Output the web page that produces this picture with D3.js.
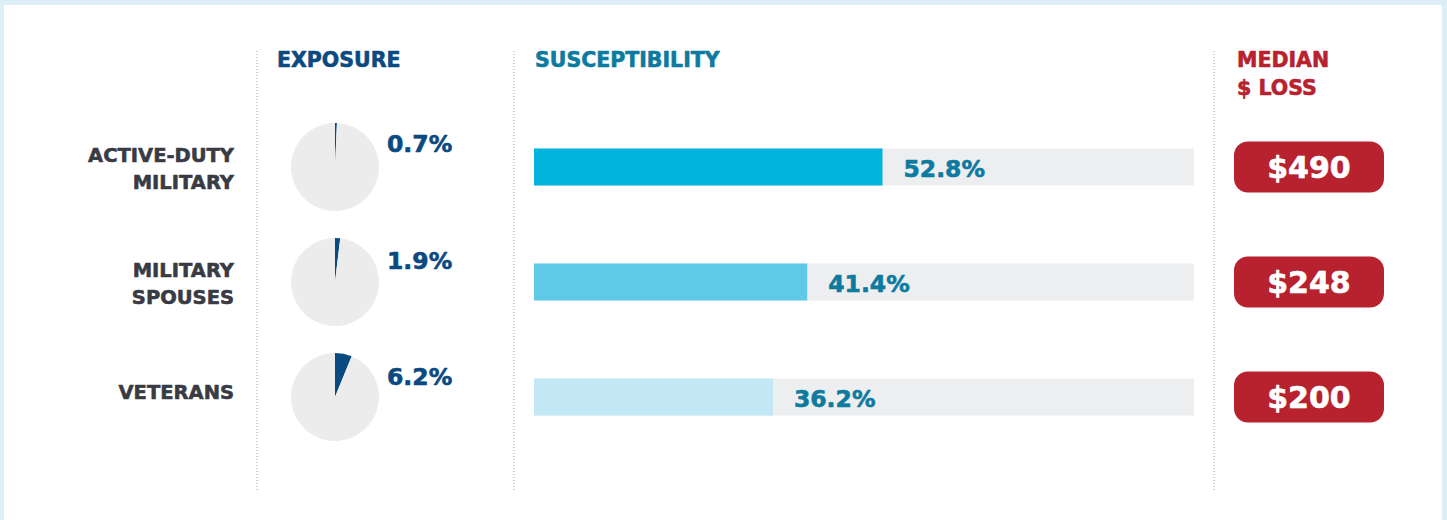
<!DOCTYPE html>
<html>
<head>
<meta charset="utf-8">
<script src="https://cdn.jsdelivr.net/npm/d3@7"></script>
<style>
  body { margin: 0; background: #ddeef7; }
  #viz { width: 1447px; height: 520px; }
  text { font-family: "DejaVu Sans", "Liberation Sans", sans-serif; font-weight: bold; }
</style>
</head>
<body>
<div id="viz"></div>
<script>
const groups = [['ACTIVE-DUTY', 'MILITARY'], ['MILITARY', 'SPOUSES'], ['VETERANS']]
const exposure = [0.7, 1.9, 6.2]
const susceptibility = [52.8, 41.4, 36.2]
const medianLoss = [490, 248, 200]
const headers = ['EXPOSURE', 'SUSCEPTIBILITY', ['MEDIAN', '$ LOSS']]

const render = () => {
    const w = 1447, h = 520

    const svg = d3.select('#viz')
        .append('svg')
        .attr('width', w)
        .attr('height', h)
        .attr('viewBox', [0, 0, w, h])

    // light blue frame with white panel
    svg.append('rect')
        .attr('width', w).attr('height', h)
        .attr('fill', '#ddeef7')
    svg.append('rect')
        .attr('x', 4).attr('y', 5)
        .attr('width', 1438).attr('height', h - 5)
        .attr('fill', '#ffffff')

    const data = groups.map((g, i) => ({
        label: g,
        exposure: exposure[i],
        susceptibility: susceptibility[i],
        loss: medianLoss[i]
    }))

    const y = d3.scalePoint()
        .domain(d3.range(data.length))
        .range([167, 397])

    // dotted column separators
    const sepX = [257, 514, 1214]
    svg.selectAll('line.sep')
        .data(sepX)
        .enter()
        .append('line')
        .attr('class', 'sep')
        .attr('x1', d => d).attr('x2', d => d)
        .attr('y1', 51).attr('y2', 492)
        .attr('stroke', '#a7a9ad')
        .attr('stroke-width', 1)
        .attr('stroke-dasharray', '1,2')

    const heavy = (sel, color) => sel
        .attr('fill', color)
        .attr('stroke', color)
        .attr('stroke-width', 0.6)
        .attr('stroke-linejoin', 'round')
        .attr('paint-order', 'stroke')

    // headers
    heavy(svg.append('text')
        .attr('x', 277).attr('y', 67)
        .attr('font-size', 20.5)
        .text(headers[0]), '#0b4a80')
    heavy(svg.append('text')
        .attr('x', 535).attr('y', 67)
        .attr('font-size', 20.5)
        .text(headers[1]), '#0d7aa0')
    const mh = svg.append('text')
        .attr('x', 1237).attr('y', 67)
        .attr('font-size', 20.5)
    heavy(mh, '#b8222f')
    mh.selectAll('tspan')
        .data(headers[2])
        .enter()
        .append('tspan')
        .attr('x', 1237)
        .attr('dy', (d, i) => i ? 28 : 0)
        .text(d => d)

    // category labels
    data.forEach((d, i) => {
        const lines = d.label
        const t = svg.append('text')
            .attr('x', 234)
            .attr('y', lines.length > 1 ? y(i) - 13.5 + 8 : y(i) + 2)
            .attr('text-anchor', 'end')
            .attr('font-size', 19.5)
        heavy(t, '#393b44')
        t.selectAll('tspan')
            .data(lines)
            .enter()
            .append('tspan')
            .attr('x', 234)
            .attr('dy', (l, j) => j ? 27.5 : 0)
            .text(l => l)
    })

    // exposure pies
    const r = 44
    const pie = d3.pie().sort(null).value(v => v)
    const arc = d3.arc().innerRadius(0).outerRadius(r)
    const pieX = 335

    data.forEach((d, i) => {
        const g = svg.append('g')
            .attr('transform', `translate(${pieX}, ${y(i)})`)
        g.selectAll('path')
            .data(pie([d.exposure, 100 - d.exposure]))
            .enter()
            .append('path')
            .attr('d', arc)
            .attr('fill', (p, j) => j ? '#ececec' : '#0b4a80')
        heavy(svg.append('text')
            .attr('x', 387)
            .attr('y', y(i) - 15 + i * 1.5)
            .attr('font-size', 23.5)
            .text(d.exposure.toFixed(1) + '%'), '#0b4a80')
    })

    // susceptibility bars
    const x = d3.scaleLinear()
        .domain([0, 100])
        .range([534, 1194])
    const barH = 37
    const barColors = ['#00b4de', '#5ecae8', '#c2e7f5']

    svg.selectAll('rect.bg')
        .data(data)
        .enter()
        .append('rect')
        .attr('class', 'bg')
        .attr('x', x(0))
        .attr('y', (d, i) => y(i) - barH / 2)
        .attr('width', x(100) - x(0))
        .attr('height', barH)
        .attr('fill', '#edeef0')

    svg.selectAll('rect.bar')
        .data(data)
        .enter()
        .append('rect')
        .attr('class', 'bar')
        .attr('x', x(0))
        .attr('y', (d, i) => y(i) - barH / 2)
        .attr('width', d => x(d.susceptibility) - x(0))
        .attr('height', barH)
        .attr('fill', (d, i) => barColors[i])

    heavy(svg.selectAll('text.val')
        .data(data)
        .enter()
        .append('text')
        .attr('class', 'val')
        .attr('x', d => x(d.susceptibility) + 21)
        .attr('y', (d, i) => y(i) + 9.5)
        .attr('font-size', 23.5)
        .text(d => d.susceptibility.toFixed(1) + '%'), '#0d7aa0')

    // median loss pills
    const pillW = 150, pillH = 51
    svg.selectAll('rect.pill')
        .data(data)
        .enter()
        .append('rect')
        .attr('class', 'pill')
        .attr('x', 1234)
        .attr('y', (d, i) => y(i) - pillH / 2)
        .attr('width', pillW)
        .attr('height', pillH)
        .attr('rx', 14)
        .attr('fill', '#b8222f')

    heavy(svg.selectAll('text.loss')
        .data(data)
        .enter()
        .append('text')
        .attr('class', 'loss')
        .attr('x', 1234 + pillW / 2)
        .attr('y', (d, i) => y(i) + 11)
        .attr('text-anchor', 'middle')
        .attr('font-size', 30)
        .text(d => '$' + d.loss), '#ffffff')
}

render()
</script>
</body>
</html>
